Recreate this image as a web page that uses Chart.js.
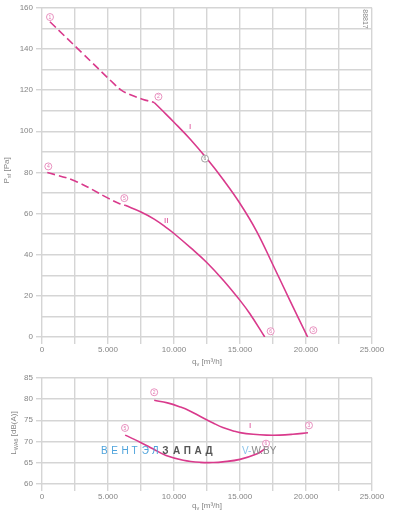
<!DOCTYPE html>
<html>
<head>
<meta charset="utf-8">
<script src="https://cdn.jsdelivr.net/npm/chart.js@4.4.0/dist/chart.umd.min.js"></script>
<style>
  body { margin: 0; background: #fff; width: 397px; height: 516px; position: relative; overflow: hidden; }
  canvas { position: absolute; left: 0; }
  #fanTop { top: 0; }
  #fanBot { top: 370px; }
</style>
</head>
<body>
<canvas id="fanTop" width="397" height="370"></canvas>
<canvas id="fanBot" width="397" height="146"></canvas>
<script>
// ---- values ----
const qTicks = [0, 2500, 5000, 7500, 10000, 12500, 15000, 17500, 20000, 22500, 25000];
const pTicks = [0, 10, 20, 30, 40, 50, 60, 70, 80, 90, 100, 110, 120, 130, 140, 150, 160];
const lwaTicks = [60, 65, 70, 75, 80, 85];

// pressure curve I (dashed part, then solid part)
const qDashI = [600, 3000, 5500, 6000, 6700, 7600, 8500];
const pDashI = [153.2, 138.3, 122.8, 120, 117.7, 115.6, 114];
const qSolidI = [8500, 9000, 10000, 11250, 12500, 13750, 15000, 16250, 17500, 18750, 20125];
const pSolidI = [114, 110.8, 104.4, 96, 86.6, 76.3, 64.9, 51.5, 35, 18.2, 0];

// pressure curve II
const qDashII = [400, 2500, 5000, 5800, 6300];
const pDashII = [80, 75.8, 67.5, 65, 64];
const qSolidII = [6300, 7500, 8500, 9500, 10000, 11250, 12500, 13750, 15000, 15750, 16875];
const pSolidII = [64, 60.8, 57.3, 52.8, 50.3, 43.4, 36.1, 27.5, 17.8, 11.3, 0];

// sound power curves
const qLwaI = [8500, 9500, 10500, 11200, 12000, 13000, 13700, 14500, 15000, 16000, 17000, 18000, 19000, 20150];
const lwaI = [79.7, 79.1, 78.1, 77.2, 75.9, 74.3, 73.3, 72.5, 72.1, 71.7, 71.5, 71.5, 71.7, 72.05];
const qLwaII = [6300, 7400, 8400, 9400, 10700, 12000, 13000, 13700, 15000, 16300, 16900];
const lwaII = [71.5, 69.9, 68.3, 66.7, 65.6, 65.1, 65.05, 65.2, 65.8, 67.1, 68.3];

// circled point numbers
const topMarkNums = ['1', '2', '3', '4', '5', '6'];
const topMarkQ = [606, 8820, 20555, 477, 6236, 17323];
const topMarkP = [155.5, 116.8, 3.3, 82.9, 67.5, 2.8];
const opPointQ = [12348];
const opPointP = [86.7];
const botMarkNums = ['2', '3', '5', '6'];
const botMarkQ = [8500, 20227, 6288, 16970];
const botMarkL = [81.6, 73.8, 73.2, 69.5];

// curve names
const topCurveNames = ['I', 'II'];
const topCurveQ = [11212, 9420];
const topCurveP = [102.4, 56.5];
const botCurveNames = ['I'];
const botCurveQ = [15758];
const botCurveL = [73.6];

// ---- styling ----
const FONT = "'Liberation Sans', Arial, sans-serif";
const PINK = '#d93a8c';
const PINK_LIGHT = '#e277b0';
const GRID = '#d5d5d5';
const TXT = '#858585';

const pts = (xs, ys) => xs.map((x, i) => ({ x, y: ys[i] }));
const dotted = n => String(n).replace(/\B(?=(\d{3})+(?!\d))/g, '.');

function curve(xs, ys, dashed) {
  return {
    type: 'line',
    data: pts(xs, ys),
    borderColor: PINK,
    borderWidth: 1.6,
    borderDash: dashed ? [8, 4] : [],
    pointRadius: 0,
    tension: 0.4,
    fill: false,
  };
}

// draw text with a subscript part, optionally rotated
function subText(ctx, parts, x, y, rot) {
  ctx.save();
  ctx.translate(x, y);
  if (rot) ctx.rotate(rot);
  ctx.fillStyle = TXT;
  ctx.textBaseline = 'middle';
  ctx.textAlign = 'left';
  let w = 0;
  parts.forEach(([t, sub]) => {
    ctx.font = (sub ? '5.5px ' : '8px ') + FONT;
    w += ctx.measureText(t).width;
  });
  let cx = -w / 2;
  parts.forEach(([t, sub]) => {
    ctx.font = (sub ? '5.5px ' : '8px ') + FONT;
    ctx.fillText(t, cx, sub ? 2.5 : 0);
    cx += ctx.measureText(t).width;
  });
  ctx.restore();
}

function circled(ctx, x, y, num, color) {
  ctx.save();
  ctx.strokeStyle = color;
  ctx.lineWidth = 0.8;
  ctx.beginPath();
  ctx.arc(x, y, 3.5, 0, Math.PI * 2);
  ctx.fillStyle = '#fff';
  ctx.fill();
  ctx.stroke();
  ctx.fillStyle = color;
  ctx.font = '5px ' + FONT;
  ctx.textAlign = 'center';
  ctx.textBaseline = 'middle';
  ctx.fillText(num, x, y + 0.3);
  ctx.restore();
}

function names(ctx, xs, ys, labels, sx, sy) {
  ctx.save();
  ctx.fillStyle = PINK;
  ctx.font = '8px ' + FONT;
  ctx.textAlign = 'center';
  ctx.textBaseline = 'middle';
  labels.forEach((t, i) => ctx.fillText(t, sx.getPixelForValue(xs[i]), sy.getPixelForValue(ys[i])));
  ctx.restore();
}

function xScale() {
  return {
    type: 'linear', min: 0, max: 25000,
    afterBuildTicks: s => { s.ticks = qTicks.map(v => ({ value: v })); },
    ticks: {
      autoSkip: false, maxRotation: 0, padding: 1, color: TXT,
      font: { family: FONT, size: 8 },
      callback: v => (v % 5000 === 0 ? dotted(v) : ''),
    },
    grid: { color: GRID, lineWidth: 1.4, tickLength: 7, tickColor: GRID },
    border: { display: false },
  };
}

const topExtras = {
  id: 'topExtras',
  afterDatasetsDraw(chart) {
    const { ctx, scales: { x, y } } = chart;
    topMarkNums.forEach((n, i) => circled(ctx, x.getPixelForValue(topMarkQ[i]), y.getPixelForValue(topMarkP[i]), n, PINK_LIGHT));
    circled(ctx, x.getPixelForValue(opPointQ[0]), y.getPixelForValue(opPointP[0]), '6', '#8a8a8a');
    names(ctx, topCurveQ, topCurveP, topCurveNames, x, y);
    subText(ctx, [['q'], ['v', 1], [' [m³/h]']], (chart.chartArea.left + chart.chartArea.right) / 2, 362);
    subText(ctx, [['P'], ['sf', 1], [' [Pa]']], 7, (chart.chartArea.top + chart.chartArea.bottom) / 2 - 2, -Math.PI / 2);
    ctx.save();
    ctx.translate(365, 19);
    ctx.rotate(Math.PI / 2);
    ctx.fillStyle = TXT;
    ctx.font = '7px ' + FONT;
    ctx.textAlign = 'center';
    ctx.textBaseline = 'middle';
    ctx.fillText('88817', 0, 0);
    ctx.restore();
  },
};

const botExtras = {
  id: 'botExtras',
  afterDatasetsDraw(chart) {
    const { ctx, scales: { x, y } } = chart;
    botMarkNums.forEach((n, i) => circled(ctx, x.getPixelForValue(botMarkQ[i]), y.getPixelForValue(botMarkL[i]), n, PINK_LIGHT));
    names(ctx, botCurveQ, botCurveL, botCurveNames, x, y);
    subText(ctx, [['q'], ['v', 1], [' [m³/h]']], (chart.chartArea.left + chart.chartArea.right) / 2, 136);
    subText(ctx, [['L'], ['WA6', 1], [' [dB(A)]']], 14, 63, -Math.PI / 2);

    // watermark
    ctx.save();
    ctx.textBaseline = 'middle';
    ctx.textAlign = 'left';
    let cx = 101;
    const wy = 81;
    ctx.font = '10px ' + FONT;
    ctx.fillStyle = '#4ea3dc';
    for (const ch of 'ВЕНТЭЛ') { ctx.fillText(ch, cx, wy); cx += 10.2; }
    ctx.font = 'bold 10px ' + FONT;
    ctx.fillStyle = '#555';
    for (const ch of 'ЗАПАД') { ctx.fillText(ch, cx, wy); cx += 10.8; }
    ctx.font = '10px ' + FONT;
    cx = 242;
    ctx.fillStyle = '#8cc4ea';
    ctx.fillText('V-', cx, wy);
    cx += ctx.measureText('V-').width;
    ctx.fillStyle = '#888';
    ctx.fillText('W.BY', cx, wy);
    ctx.restore();
  },
};

new Chart(document.getElementById('fanTop'), {
  type: 'scatter',
  data: {
    datasets: [
      curve(qDashI, pDashI, true),
      curve(qSolidI, pSolidI, false),
      curve(qDashII, pDashII, true),
      curve(qSolidII, pSolidII, false),
    ],
  },
  options: {
    responsive: false,
    animation: false,
    layout: { padding: { top: 7, right: 25, left: 0, bottom: 0 } },
    plugins: { legend: { display: false }, tooltip: { enabled: false } },
    scales: {
      x: { ...xScale(), afterFit: s => { s.height = 33; } },
      y: {
        min: 0, max: 160,
        afterBuildTicks: s => { s.ticks = pTicks.map(v => ({ value: v })); },
        afterFit: s => { s.width = 42; },
        ticks: {
          autoSkip: false, padding: 3, color: TXT,
          font: { family: FONT, size: 8 },
          callback: v => (v % 20 === 0 ? v : ''),
        },
        grid: {
          color: GRID, lineWidth: 1.4, tickLength: 6,
          tickColor: c => (c.tick && c.tick.value % 20 === 0 ? GRID : 'rgba(0,0,0,0)'),
        },
        border: { display: false },
      },
    },
  },
  plugins: [topExtras],
});

new Chart(document.getElementById('fanBot'), {
  type: 'scatter',
  data: {
    datasets: [
      curve(qLwaI, lwaI, false),
      curve(qLwaII, lwaII, false),
    ],
  },
  options: {
    responsive: false,
    animation: false,
    layout: { padding: { top: 5, right: 25, left: 0, bottom: 0 } },
    plugins: { legend: { display: false }, tooltip: { enabled: false } },
    scales: {
      x: { ...xScale(), afterFit: s => { s.height = 32; } },
      y: {
        min: 60, max: 85,
        afterBuildTicks: s => { s.ticks = lwaTicks.map(v => ({ value: v })); },
        afterFit: s => { s.width = 42; },
        ticks: { autoSkip: false, padding: 3, color: TXT, font: { family: FONT, size: 8 } },
        grid: { color: GRID, lineWidth: 1.4, tickLength: 6, tickColor: GRID },
        border: { display: false },
      },
    },
  },
  plugins: [botExtras],
});
</script>
</body>
</html>
